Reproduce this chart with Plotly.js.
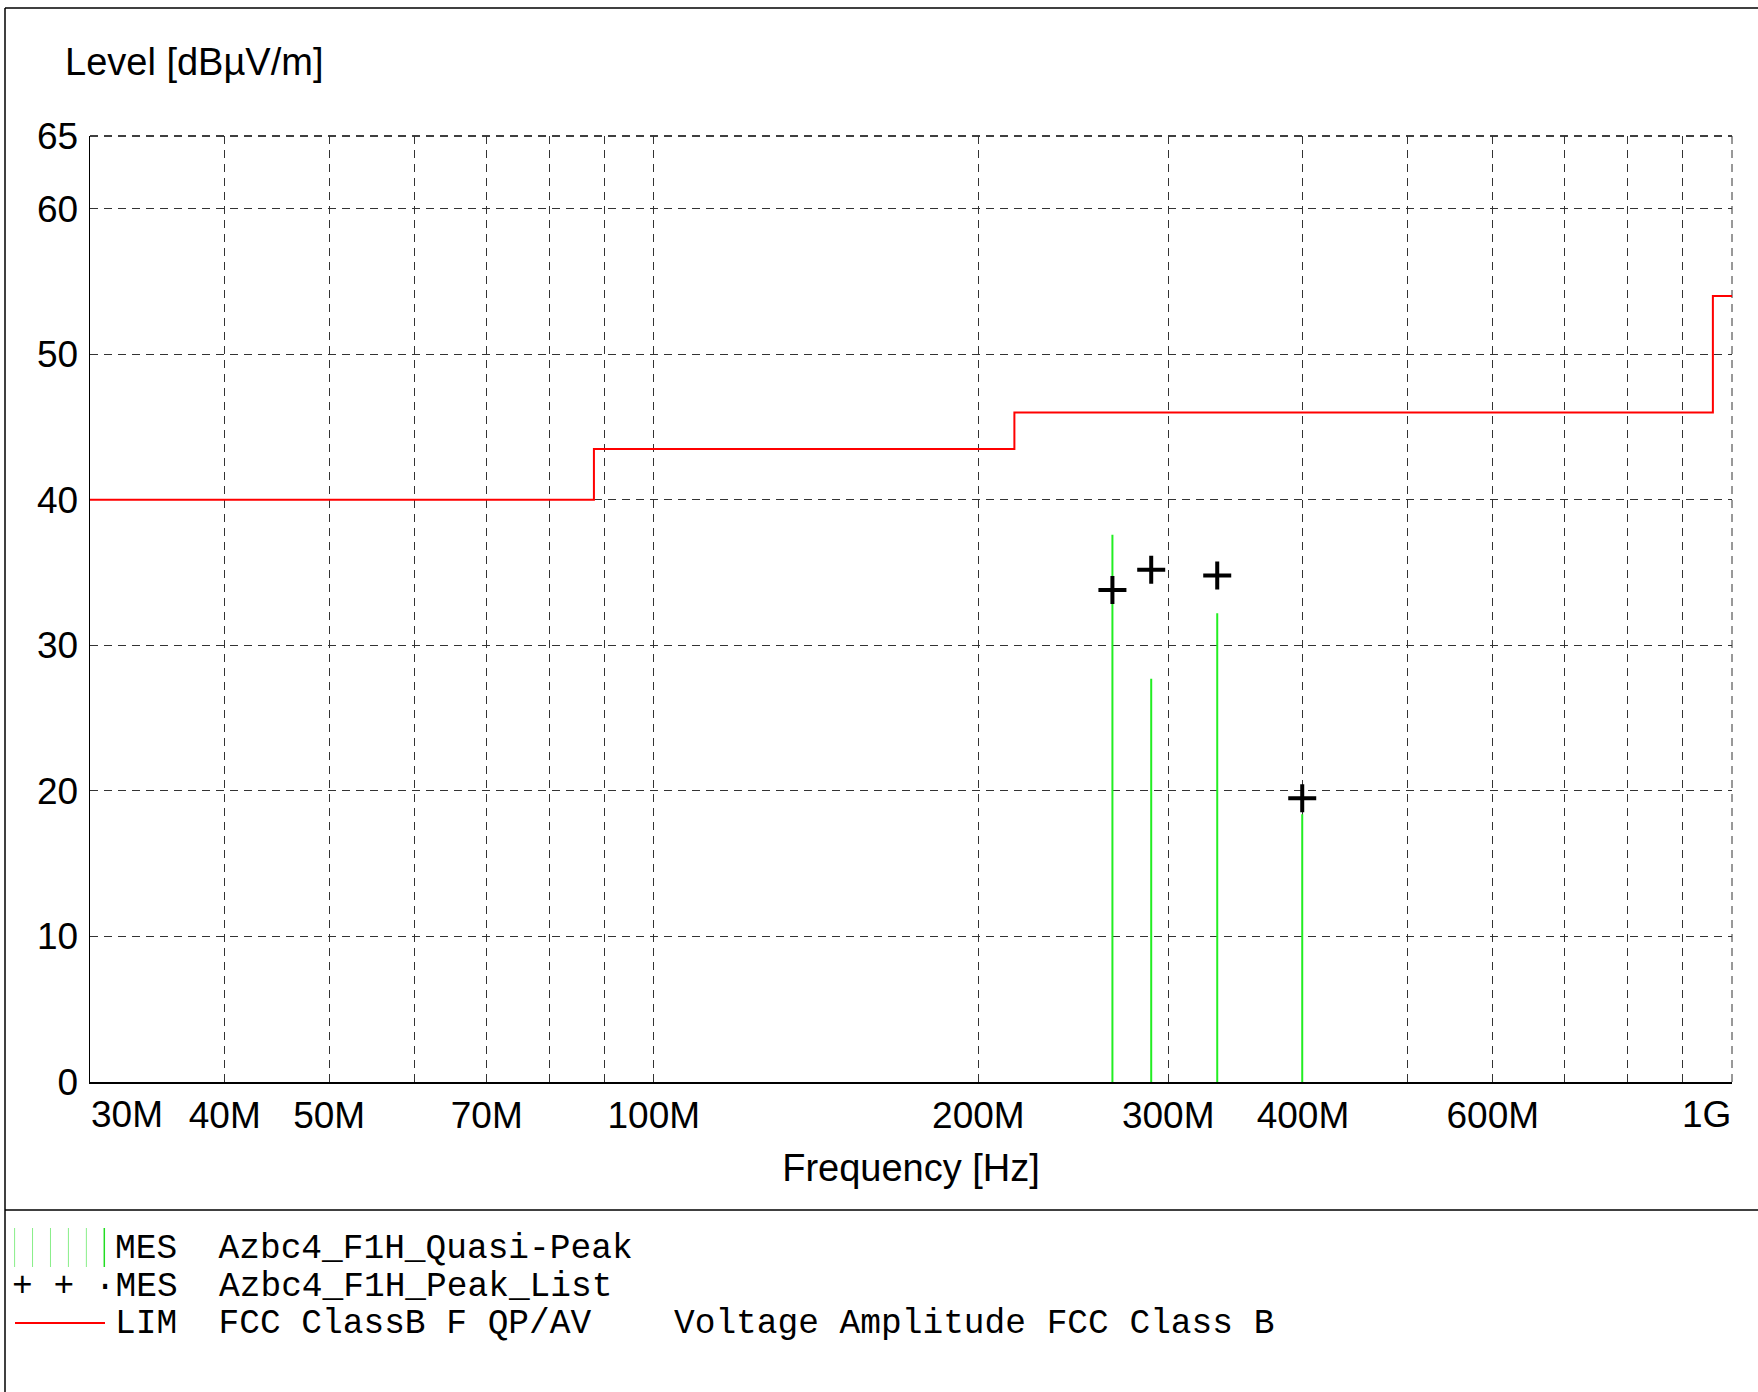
<!DOCTYPE html>
<html>
<head>
<meta charset="utf-8">
<script src="https://cdn.plot.ly/plotly-3.0.1.min.js"></script>
<style>html,body{margin:0;padding:0;background:#fff;}</style>
</head>
<body>
<div id="chart" style="width:1758px;height:1392px;"></div>
<script>
// ---- data (frequencies in MHz, levels in dBµV/m) ----
const limitFreqMHz = [30, 88, 216, 960, 1000];
const limitLevel = [40, 43.5, 46, 54, 54];

const mesFreqMHz = [266.3, 289.3, 333.1, 399.4];
const quasiPeakLevel = [37.6, 27.7, 32.2, 18.4];
const peakListLevel = [33.8, 35.2, 34.8, 19.5];

const xTickVals = [30, 40, 50, 60, 70, 80, 90, 100, 200, 300, 400, 500, 600, 700, 800, 900, 1000];
const xTickLabels = ['30M', '40M', '50M', '', '70M', '', '', '100M', '200M', '300M', '400M', '', '600M', '', '', '', '1G'];
const yTickVals = [0, 10, 20, 30, 40, 50, 60, 65];

const legendNames = ['Azbc4_F1H_Quasi-Peak', 'Azbc4_F1H_Peak_List', 'FCC ClassB F QP/AV'];
const legendKinds = ['MES', 'MES', 'LIM'];
const limitDescription = 'Voltage Amplitude FCC Class B';

const axisTitleY = 'Level [dBµV/m]';
const axisTitleX = 'Frequency [Hz]';

// ---- geometry helpers ----
const W = 1758, H = 1392, L = 90, R = 26, T = 136, B = 310;
const PW = W - L - R, PH = H - T - B;
const px = v => (v - L) / PW;
const py = v => (H - B - v) / PH;
const NB = '\u00a0';

// end labels (first/last) are drawn aligned inside the axis ends, the rest as normal ticks
const lastIdx = xTickLabels.length - 1;
const tickText = xTickLabels.map((t, i) => (i === 0 || i === lastIdx) ? '' : t);

// vertical QP lines built from the arrays
const qpX = [], qpY = [];
mesFreqMHz.forEach((f, i) => { qpX.push(f, f, null); qpY.push(0, quasiPeakLevel[i], null); });

const traces = [
  {
    x: qpX, y: qpY, type: 'scatter', mode: 'lines',
    line: {color: '#22ee22', width: 2}, hoverinfo: 'skip', showlegend: false
  },
  {
    x: limitFreqMHz, y: limitLevel, type: 'scatter', mode: 'lines',
    line: {color: '#ff0000', width: 2, shape: 'hv'}, showlegend: false
  },
  {
    x: mesFreqMHz, y: peakListLevel, type: 'scatter', mode: 'markers',
    marker: {symbol: 'cross-thin', size: 20, line: {color: '#000', width: 4}, color: '#000'},
    showlegend: false
  }
];

const gridStyle = {color: '#333', dash: '8px,6px', width: 1};
const tickFont = {family: 'Liberation Sans, Arial, sans-serif', size: 37, color: '#000'};
const monoFont = {family: 'Liberation Mono, Courier New, monospace', size: 34.5, color: '#000'};

const shapes = [
  // outer frame and separator
  {type: 'line', xref: 'paper', yref: 'paper', x0: px(5), x1: px(W), y0: py(8), y1: py(8), line: {color: '#000', width: 1.5}},
  {type: 'line', xref: 'paper', yref: 'paper', x0: px(5), x1: px(5), y0: py(8), y1: py(H), line: {color: '#000', width: 1.5}},
  {type: 'line', xref: 'paper', yref: 'paper', x0: px(5), x1: px(W), y0: py(1210), y1: py(1210), line: {color: '#000', width: 1.5}},
  // dashed top/right plot border (grid at range ends)
  {type: 'line', xref: 'paper', yref: 'paper', x0: 0, x1: 1, y0: 1, y1: 1, layer: 'below', line: {color: '#000', width: 1.5, dash: '8px,6px'}},
  {type: 'line', xref: 'paper', yref: 'paper', x0: 1, x1: 1, y0: 0, y1: 1, layer: 'below', line: {color: gridStyle.color, width: 1, dash: gridStyle.dash}},
  // legend symbol: limit line
  {type: 'line', xref: 'paper', yref: 'paper', x0: px(15), x1: px(105), y0: py(1323), y1: py(1323), line: {color: '#ff0000', width: 2}}
];
for (let i = 0; i < 6; i++) {
  const xx = 14.6 + i * 17.94;
  shapes.push({type: 'line', xref: 'paper', yref: 'paper', x0: px(xx), x1: px(xx), y0: py(1228), y1: py(1267),
    line: {color: i < 5 ? '#88ee88' : '#22dd22', width: i < 5 ? 1 : 1.5}});
}

const legendY = [1248.5, 1286.5, 1323];
const annotations = legendNames.map((n, i) => {
  let text = legendKinds[i] + NB + NB + n;
  if (i === 2) text += NB.repeat(4) + limitDescription;
  let x0 = 113.5;
  if (i === 1) { text = '+' + NB + '+' + NB + '·' + text; x0 = 10.5; }
  return {xref: 'paper', yref: 'paper', x: px(x0), y: py(legendY[i]), xanchor: 'left', yanchor: 'middle',
    text: text, showarrow: false, font: monoFont, borderpad: 0};
});
// end tick labels of the frequency axis
annotations.push({xref: 'x', yref: 'paper', x: Math.log10(xTickVals[0]), y: py(1114), xanchor: 'left', yanchor: 'middle',
  text: xTickLabels[0], showarrow: false, font: tickFont, borderpad: 0});
annotations.push({xref: 'x', yref: 'paper', x: Math.log10(xTickVals[lastIdx]), y: py(1114), xanchor: 'right', yanchor: 'middle',
  text: xTickLabels[lastIdx], showarrow: false, font: tickFont, borderpad: 0});

const layout = {
  width: W, height: H,
  margin: {l: L, r: R, t: T, b: B},
  paper_bgcolor: '#fff', plot_bgcolor: '#fff',
  font: {family: 'Liberation Sans, Arial, sans-serif', color: '#000'},
  showlegend: false,
  title: {
    text: axisTitleY, font: {family: 'Liberation Sans, Arial, sans-serif', size: 38, color: '#000'},
    xref: 'container', yref: 'container', x: 65 / W, xanchor: 'left', y: 1 - 61.7 / H, yanchor: 'middle'
  },
  xaxis: {
    type: 'log', range: [Math.log10(30), 3],
    tickmode: 'array', tickvals: xTickVals, ticktext: tickText,
    showgrid: true, gridcolor: gridStyle.color, griddash: gridStyle.dash, gridwidth: gridStyle.width,
    showline: true, linecolor: '#000', linewidth: 1.5, ticks: '', zeroline: false,
    tickfont: tickFont, ticklabelstandoff: 0,
    title: {text: axisTitleX, font: {family: 'Liberation Sans, Arial, sans-serif', size: 38, color: '#000'}, standoff: 19},
    fixedrange: true
  },
  yaxis: {
    range: [0, 65], tickmode: 'array', tickvals: yTickVals,
    showgrid: true, gridcolor: gridStyle.color, griddash: gridStyle.dash, gridwidth: gridStyle.width,
    showline: true, linecolor: '#000', linewidth: 1.5, ticks: '', zeroline: false,
    tickfont: tickFont, ticklabelstandoff: 3,
    fixedrange: true
  },
  shapes: shapes,
  annotations: annotations
};

Plotly.newPlot('chart', traces, layout, {displayModeBar: false, staticPlot: true});
</script>
</body>
</html>
